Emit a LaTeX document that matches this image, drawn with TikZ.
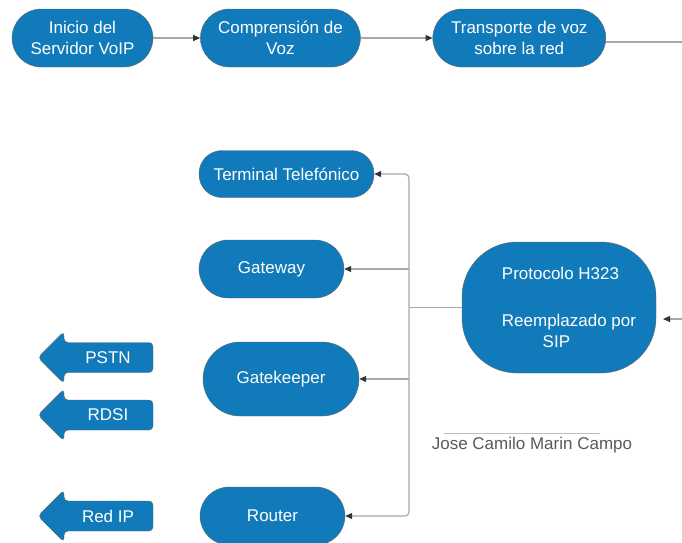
\documentclass[tikz,border=0pt]{standalone}
\usepackage{fontspec}
\setmainfont{Liberation Sans}
\usetikzlibrary{arrows.meta,positioning}
\definecolor{voipblue}{HTML}{117ABA}
\definecolor{wiregray}{HTML}{A8A8A8}

\begin{document}
\begin{tikzpicture}[x=1pt,y=-1pt,>={Triangle[length=7pt,width=6pt,color=black!80]},
  every node/.style={font=\fontsize{17}{21}\selectfont},
  pill/.style={draw=black!60,fill=voipblue,text=white,rounded corners=#1,align=center,inner sep=2pt},
  pill/.default=29pt,
  wire/.style={draw=wiregray,line width=1.2pt}]
\clip (0,0) rectangle (682,542);
% fila superior
\node[pill,minimum width=141pt,minimum height=58pt] (inicio) at (82.5,38) {Inicio del\\Servidor VoIP};
\node[pill,minimum width=160pt,minimum height=58pt,right=47pt of inicio] (compr) {Comprensión de\\Voz};
\node[pill,minimum width=173pt,minimum height=58pt,right=72pt of compr] (transp) {Transporte de voz\\sobre la red};
\coordinate (salida) at (682,42);
\draw[wire,->] (inicio) -- (compr);
\draw[wire,->] (compr) -- (transp);
\draw[wire] (transp.east |- salida) -- (salida);
% componentes
\node[pill=23pt,minimum width=175pt,minimum height=47pt] (terminal) at (286.5,174) {Terminal Telefónico};
\node[pill,minimum width=145pt,minimum height=58pt] (gateway) at (271.5,269) {Gateway};
\node[pill=37pt,minimum width=156pt,minimum height=74pt] (gatekeeper) at (281,379) {Gatekeeper};
\node[pill,minimum width=145pt,minimum height=58pt] (router) at (272.5,516) {Router};
\node[pill=55pt,minimum width=194pt,minimum height=131pt,align=left] (protocolo) at (559,307.5) {\hspace*{20pt}Protocolo H323\\[26pt]\hspace*{20pt}Reemplazado por\\\hspace*{20pt}\hspace*{2.4em}SIP};
\coordinate (nudo) at (409,307.5);
\draw[wire] (protocolo.west) -- (nudo);
\draw[wire,->,rounded corners=4pt] (nudo) |- (terminal);
\draw[wire,->] (nudo |- gateway) -- (gateway);
\draw[wire,->] (nudo |- gatekeeper) -- (gatekeeper);
\draw[wire,->,rounded corners=4pt] (nudo) |- (router);
\coordinate (entrada) at (682,319);
\draw[wire,->] (entrada) -- ++(-19,0);
% redes
\foreach \yy/\lab/\nm in {357.5/PSTN/pstn,415/RDSI/rdsi,516/Red IP/redip}{
  \filldraw[fill=voipblue,draw=black!60,rounded corners=4pt] (110,\yy-15) -- (153,\yy-15) -- (153,\yy+15) -- (64,\yy+15) -- (64,\yy+26) -- (38,\yy) -- (64,\yy-26) -- (64,\yy-15) -- cycle;
  \node[text=white] (\nm) at (108,\yy) {\lab};
}
\node[text=black!65] (autor) at (532,445) {Jose Camilo Marin Campo};
\draw[black!25,line width=1pt] ([xshift=16pt]autor.north west) -- ([xshift=-36pt]autor.north east);
\end{tikzpicture}
\end{document}
